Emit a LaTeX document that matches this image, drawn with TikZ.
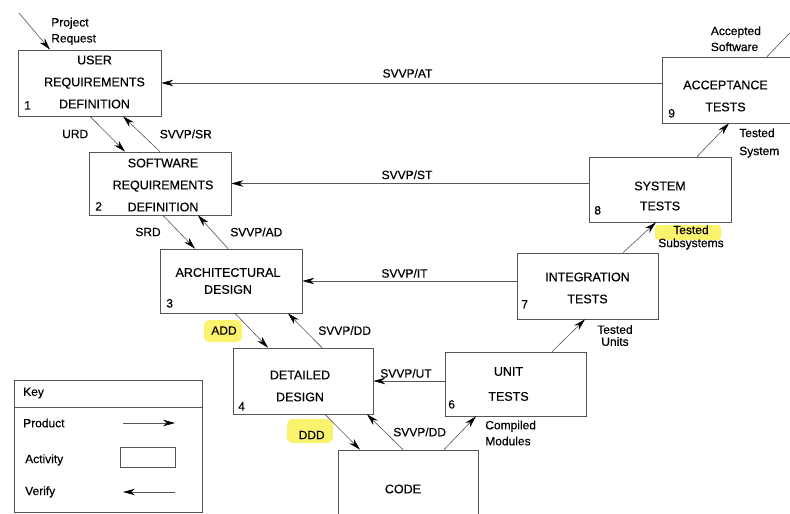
\documentclass[tikz,border=0pt]{standalone}
\usepackage{fontspec}
\setmainfont{Liberation Sans}[FakeBold=0.4]
\usetikzlibrary{arrows.meta,positioning}
\definecolor{ink}{RGB}{85,85,85}
\definecolor{marker}{RGB}{250,243,110}
\begin{document}
\begin{tikzpicture}[x=1pt, y=-1pt,
    box/.style={draw=ink, line width=0.7pt, minimum width=141pt, minimum height=65pt, inner sep=0pt},
    boxtxt/.style={align=center, inner sep=0pt, font=\fontsize{12.5}{22}\selectfont},
    num/.style={font=\fontsize{12}{14}\selectfont, inner sep=0pt},
    lbl/.style={font=\fontsize{12}{16}\selectfont, inner sep=0pt, align=left, text=black},
    arr/.style={-{Stealth[length=12pt,width=6.5pt,black]}, ink, line width=0.6pt}
  ]
  \useasboundingbox (0,0) rectangle (790,514);
  \clip (0,0) rectangle (790,514);
  % marker pen
  \fill[marker, rounded corners=5pt] (204,320) rectangle (242,342);
  \fill[marker, rounded corners=6pt] (287,419) rectangle (333,443);
  \fill[marker, rounded corners=3pt] (655,225) rectangle (721,240);

  % activities
  \node[box, minimum width=143pt, minimum height=66pt] (b1) at (89.5,83) {};
  \node[box, minimum width=142pt, minimum height=63pt] (b2) at (160,183.5) {};
  \node[box, minimum width=142pt, minimum height=64pt] (b3) at (231,281) {};
  \node[box, minimum width=140pt, minimum height=66pt] (b4) at (303,381) {};
  \node[box, minimum width=140pt, minimum height=78pt] (b5) at (408,489) {};
  \node[box, minimum width=141pt, minimum height=64pt] (b6) at (515.5,384) {};
  \node[box, minimum width=141pt, minimum height=66pt] (b7) at (587.5,286) {};
  \node[box, minimum width=142pt, minimum height=65pt] (b8) at (660,189.5) {};
  \node[box, minimum width=141pt, minimum height=66pt] (b9) at (732.5,90) {};

  \node[boxtxt] (t1) at ([xshift=5pt,yshift=1pt]b1.center) {USER\\REQUIREMENTS\\DEFINITION};
  \node[boxtxt] (t2) at ([xshift=3pt,yshift=-1.5pt]b2.center) {SOFTWARE\\REQUIREMENTS\\DEFINITION};
  \node[boxtxt, font=\fontsize{12.5}{17}\selectfont] (t3) at ([xshift=-3pt]b3.center) {ARCHITECTURAL\\DESIGN};
  \node[boxtxt] (t4) at ([xshift=-3pt,yshift=-5pt]b4.center) {DETAILED\\DESIGN};
  \node[boxtxt] (t5) at ([xshift=-5pt]b5.center) {CODE};
  \node[boxtxt, font=\fontsize{12.5}{25}\selectfont] (t6) at ([xshift=-7pt]b6.center) {UNIT\\TESTS};
  \node[boxtxt] (t7) at ([yshift=-2pt]b7.center) {INTEGRATION\\TESTS};
  \node[boxtxt, font=\fontsize{12.5}{20}\selectfont] (t8) at ([yshift=-6.5pt]b8.center) {SYSTEM\\TESTS};
  \node[boxtxt] (t9) at ([xshift=-7pt,yshift=-6pt]b9.center) {ACCEPTANCE\\TESTS};

  \node[num] (n1) at ([xshift=10pt,yshift=11pt]b1.south west) {1};
  \node[num] (n2) at ([xshift=10pt,yshift=9pt]b2.south west) {2};
  \node[num] (n3) at ([xshift=10pt,yshift=10pt]b3.south west) {3};
  \node[num] (n4) at ([xshift=9pt,yshift=8pt]b4.south west) {4};
  \node[num] (n6) at ([xshift=7pt,yshift=12pt]b6.south west) {6};
  \node[num] (n7) at ([xshift=8pt,yshift=15pt]b7.south west) {7};
  \node[num] (n8) at ([xshift=9pt,yshift=12pt]b8.south west) {8};
  \node[num] (n9) at ([xshift=10pt,yshift=10pt]b9.south west) {9};

  % products
  \coordinate (req) at (19,13);
  \coordinate (acc) at (810,12);
  \draw[arr] (req) -- ([xshift=-39.5pt]b1.north) node[lbl, midway, right=16.5pt] {Project\\Request};
  \draw[arr] ([xshift=0.5pt]b1.south) -- ([xshift=-35pt]b2.north) node[lbl, midway, left=19pt] {URD};
  \draw[arr] ([xshift=3pt]b2.south) -- ([xshift=-36pt]b3.north) node[lbl, midway, left=18pt] {SRD};
  \draw[arr] ([xshift=4pt]b3.south) -- ([xshift=-35pt]b4.north) node[lbl, midway, left=14.5pt] {ADD};
  \draw[arr] ([xshift=22pt]b4.south) -- ([xshift=-48pt]b5.north) node[lbl, midway, left=17.5pt, yshift=-3pt] {DDD};
  \draw[arr] ([xshift=36pt]b5.north) -- ([xshift=-39.5pt]b6.south) node[lbl, midway, right=25pt] {Compiled\\Modules};
  \draw[arr] ([xshift=36.5pt]b6.north) -- ([xshift=-2.5pt]b7.south) node[lbl, midway, right=28.5pt, align=center, font=\fontsize{12}{12}\selectfont] {Tested\\Units};
  \draw[arr] ([xshift=35.5pt]b7.north) -- ([xshift=-4pt]b8.south) node[lbl, midway, right=18.5pt, align=center, font=\fontsize{12}{13}\selectfont] {Tested\\Subsystems};
  \draw[arr] ([xshift=37pt]b8.north) -- ([xshift=-3.5pt]b9.south) node[lbl, midway, right=26pt, yshift=-3pt, font=\fontsize{12}{18}\selectfont] {Tested\\System};
  \draw[arr] ([xshift=34.5pt]b9.north) -- (acc) node[lbl, pos=0.4, left=23pt] {Accepted\\Software};

  % verification
  \draw[arr] (b2.north) -- ([xshift=33.5pt]b1.south) node[lbl, midway, right=18pt] {SVVP/SR};
  \draw[arr] ([xshift=-3pt]b3.north) -- ([xshift=38pt]b2.south) node[lbl, midway, right=17pt] {SVVP/AD};
  \draw[arr] ([xshift=19pt]b4.north) -- ([xshift=57pt]b3.south) node[lbl, midway, right=13pt] {SVVP/DD};
  \draw[arr] ([xshift=-5pt]b5.north) -- ([xshift=64pt]b4.south) node[lbl, midway, right=8pt] {SVVP/DD};
  \draw[arr] (b1.east -| b9.west) -- (b1.east) node[lbl, midway, above=5pt, xshift=-4pt] {SVVP/AT};
  \draw[arr] (b2.east -| b8.west) -- (b2.east) node[lbl, midway, above=4pt, xshift=-3pt] {SVVP/ST};
  \draw[arr] (b3.east -| b7.west) -- (b3.east) node[lbl, midway, above=3pt, xshift=-5pt] {SVVP/IT};
  \draw[arr] (b4.east -| b6.west) -- (b4.east) node[lbl, midway, above=3pt, xshift=-3pt] {SVVP/UT};

  % key
  \draw[ink, line width=0.7pt] (14,380) rectangle (202,512);
  \draw[ink, line width=0.7pt] (14,407) -- (202,407);
  \node[lbl, anchor=west] (key) at (23,393) {Key};
  \node[lbl, anchor=west] (kprod) at (23,423) {Product};
  \node[lbl, anchor=west] (kact) at (25,460) {Activity};
  \node[lbl, anchor=west] (kver) at (25,492) {Verify};
  \coordinate (kp1) at (123,423);
  \coordinate (kp2) at (175,423);
  \coordinate (kv1) at (175,492);
  \coordinate (kv2) at (123,492);
  \draw[arr] (kp1) -- (kp2);
  \node[draw=ink, line width=0.7pt, minimum width=55pt, minimum height=20pt] (kbox) at (147.5,457) {};
  \draw[arr] (kv1) -- (kv2);
\end{tikzpicture}
\end{document}
